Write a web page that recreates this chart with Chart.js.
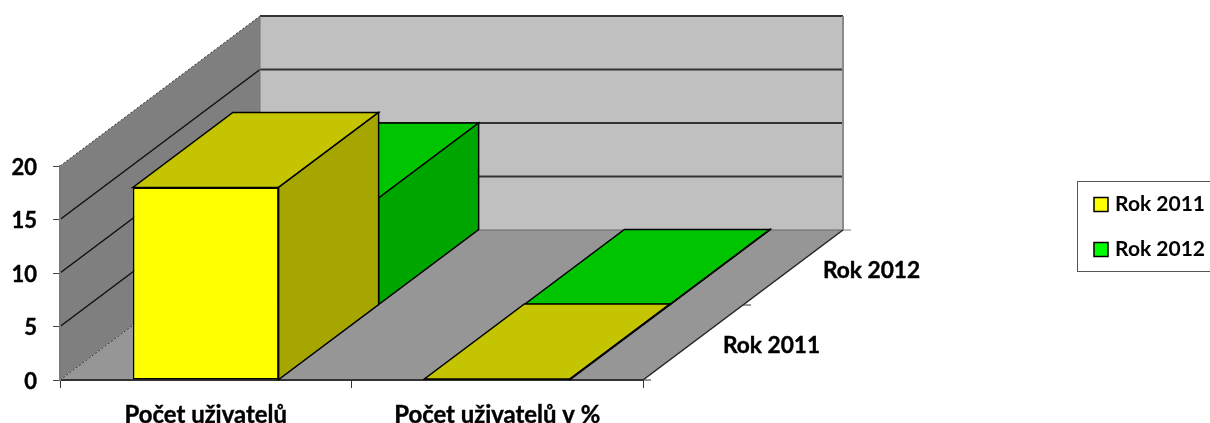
<!DOCTYPE html>
<html>
<head>
<meta charset="utf-8">
<style>
  html, body { margin: 0; background: #fff; }
  canvas { display: block; }
</style>
<script src="https://cdn.jsdelivr.net/npm/chart.js@4/dist/chart.umd.min.js"></script>
</head>
<body>
<canvas id="chart" width="1210" height="423"></canvas>
<script>
const categories = ["Počet uživatelů", "Počet uživatelů v %"]
const rok2011 = [18, 0.1]
const rok2012 = [10, 0.05]
const seriesNames = ["Rok 2011", "Rok 2012"]
const yTicks = [0, 5, 10, 15, 20]

// one series slot in the fake depth direction
const slotX = 100
const slotY = -75
const fontName = "Lato, 'Noto Sans', sans-serif"

const shade = (rgb, k) => `rgb(${rgb.map(v => Math.round(v * k)).join(",")})`
const yellow = [255, 255, 0]
const green = [0, 255, 0]
const seriesRgb = [yellow, green]

function poly(ctx, pts, fill, stroke, width) {
  ctx.beginPath()
  pts.forEach((p, i) => i ? ctx.lineTo(p[0], p[1]) : ctx.moveTo(p[0], p[1]))
  ctx.closePath()
  if (fill) { ctx.fillStyle = fill; ctx.fill() }
  if (stroke) { ctx.strokeStyle = stroke; ctx.lineWidth = width; ctx.stroke() }
}

function line(ctx, x1, y1, x2, y2, color, width, dash) {
  ctx.beginPath()
  ctx.setLineDash(dash || [])
  ctx.moveTo(x1, y1)
  ctx.lineTo(x2, y2)
  ctx.strokeStyle = color
  ctx.lineWidth = width
  ctx.stroke()
  ctx.setLineDash([])
}

const box3d = {
  id: "box3d",
  afterLayout(chart) {
    // legend sits in its own frame at the right edge
    const lg = chart.legend
    lg.left = 1070
    lg.right = 1205
    lg.top = 170
    lg.bottom = 320
  },
  beforeDraw(chart) {
    const { ctx } = chart
    const { left, right, top, bottom } = chart.chartArea
    const dx = slotX * seriesNames.length
    const dy = slotY * seriesNames.length
    ctx.save()
    // left wall, back wall, floor
    poly(ctx, [[left, top], [left + dx, top + dy], [left + dx, bottom + dy], [left, bottom]], "#7f7f7f")
    poly(ctx, [[left + dx, top + dy], [right + dx, top + dy], [right + dx, bottom + dy], [left + dx, bottom + dy]], "#c0c0c0")
    poly(ctx, [[left, bottom], [right, bottom], [right + dx, bottom + dy], [left + dx, bottom + dy]], "#969696")
    // gridlines run along both walls
    chart.scales.y.ticks.forEach(t => {
      const y = chart.scales.y.getPixelForValue(t.value)
      const edge = t.value === 0 || t.value === 20
      line(ctx, left, y, left + dx, y + dy, edge ? "#333" : "#111", edge ? 1 : 1.5, edge ? [2, 2] : null)
      line(ctx, left + dx, y + dy, right + dx, y + dy, t.value === 0 ? "#666" : "#333", t.value === 0 ? 1 : 2)
    })
    line(ctx, right + dx, top + dy, right + dx, bottom + dy, "#8a8a8a", 2)
    line(ctx, left + dx, top + dy, left + dx, bottom + dy, "#777", 1)
    // right floor edge with depth ticks and names
    line(ctx, right, bottom, right + dx, bottom + dy, "#222", 1.5)
    ctx.font = `bold 22.7px ${fontName}`
    ctx.fillStyle = "#000"
    ctx.textAlign = "left"
    ctx.textBaseline = "middle"
    for (let i = 0; i <= seriesNames.length; i++) {
      const x = right + slotX * i
      const y = bottom + slotY * i
      line(ctx, x, y, x + 8, y, i === seriesNames.length ? "#777" : "#333", 1)
      if (i < seriesNames.length) {
        const tx = x + slotX / 2 + 30
        const ty = y + slotY / 2 + 3
        ctx.strokeStyle = "#000"
        ctx.lineWidth = 0.4
        ctx.strokeText(seriesNames[i], tx, ty)
        ctx.fillText(seriesNames[i], tx, ty)
      }
    }
    ctx.restore()
  },
  beforeDatasetDraw(chart, args) {
    const { ctx } = chart
    const i = args.index
    const rgb = seriesRgb[i]
    ctx.save()
    ctx.translate(slotX * i, slotY * i)
    args.meta.data.forEach(bar => {
      const { x, y, base, width } = bar.getProps(["x", "y", "base", "width"], true)
      const l = x - width / 2
      const r = x + width / 2
      poly(ctx, [[l, y], [r, y], [r + slotX, y + slotY], [l + slotX, y + slotY]], shade(rgb, 0.77), "#000", 1.5)
      poly(ctx, [[r, y], [r + slotX, y + slotY], [r + slotX, base + slotY], [r, base]], shade(rgb, 0.65), "#000", 1.5)
    })
  },
  afterDatasetDraw(chart) {
    chart.ctx.restore()
  },
  afterDraw(chart) {
    const { ctx } = chart
    ctx.save()
    ctx.strokeStyle = "#555"
    ctx.lineWidth = 1
    ctx.strokeRect(1077.5, 181.5, 140, 90)
    ctx.restore()
  }
}

new Chart(document.getElementById("chart"), {
  type: "bar",
  plugins: [box3d],
  data: {
    labels: categories,
    datasets: [
      { label: seriesNames[0], data: rok2011, backgroundColor: "#ffff00" },
      { label: seriesNames[1], data: rok2012, backgroundColor: "#00ff00" }
    ]
  },
  options: {
    responsive: false,
    animation: false,
    layout: { padding: { top: 166, right: 567, bottom: 0, left: 0 } },
    datasets: {
      bar: {
        grouped: false, clip: false, barPercentage: 0.5, categoryPercentage: 1,
        borderColor: "#000", borderWidth: 1.5, borderSkipped: false
      }
    },
    scales: {
      x: {
        afterFit(scale) { scale.height = 43 },
        grid: { drawOnChartArea: false, tickLength: 8, tickColor: "#333" },
        border: { color: "#333", width: 2 },
        ticks: {
          color: "#000", padding: 13, maxRotation: 0, autoSkip: false,
          textStrokeColor: "#000", textStrokeWidth: 0.4,
          font: { family: fontName, size: 23.9, weight: "bold" }
        }
      },
      y: {
        min: 0, max: 20,
        afterFit(scale) { scale.width = 60 },
        afterBuildTicks(scale) { scale.ticks = yTicks.map(value => ({ value })) },
        grid: { drawOnChartArea: false, tickLength: 7, tickColor: "#444" },
        border: { color: "#7a7a7a", width: 2 },
        ticks: {
          color: "#000", padding: 16, labelOffset: 1.5,
          textStrokeColor: "#000", textStrokeWidth: 0.4,
          font: { family: fontName, size: 22, weight: "bold" }
        }
      }
    },
    plugins: {
      tooltip: { enabled: false },
      legend: {
        position: "chartArea",
        align: "start",
        labels: {
          boxWidth: 14, boxHeight: 14, padding: 24, textAlign: "right", color: "#000",
          font: { family: fontName, size: 21, weight: "bold" }
        }
      }
    }
  }
})
</script>
</body>
</html>
